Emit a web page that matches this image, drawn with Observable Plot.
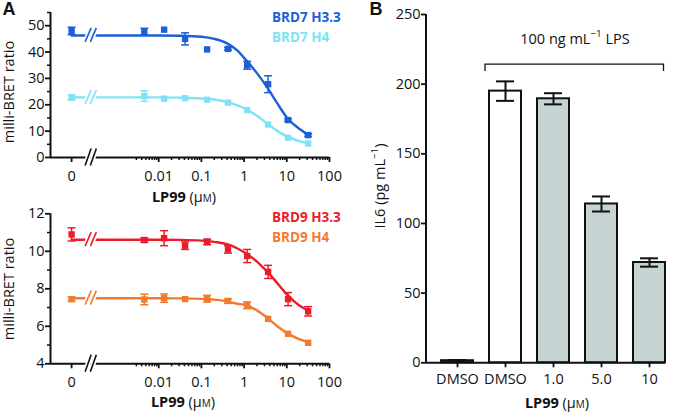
<!DOCTYPE html>
<html><head><meta charset="utf-8">
<script src="https://cdn.jsdelivr.net/npm/d3@7"></script>
<script src="https://cdn.jsdelivr.net/npm/@observablehq/plot@0.6"></script>
<style>
body{margin:0;background:#fff;}
#root{position:relative;width:675px;height:415px;overflow:hidden;font-family:"Open Sans",sans-serif;color:#111;}
.abs{position:absolute;white-space:nowrap;line-height:1;transform:translate(-50%,-50%);}
.rot{transform:translate(-50%,-50%) rotate(-90deg);}
.lft{transform:translate(0,-50%);}
.panel{position:absolute;display:block;}
.lbl{font-size:14.5px;}
.lbl b{font-weight:700;}
.leg{font-weight:700;font-size:13.5px;}
.letter{font-family:"Liberation Sans",Arial,sans-serif;font-weight:700;font-size:18px;}
sup{font-size:0.68em;line-height:0;position:relative;top:-0.1em;}
.sc{font-variant:small-caps;}
</style></head><body><div id="root"></div>
<script>
// ---------- Panel A data ----------
const conc = [0, 0.0046, 0.0134, 0.0415, 0.136, 0.42, 1.18, 3.65, 10.7, 31.6];
const brd7H33 = [48.0, 47.7, 48.5, 45.0, 41.0, 41.2, 35.0, 27.8, 14.2, 8.5];
const brd7H33Err = [1.4, 1.3, 0, 2.3, 0, 0.5, 1.5, 3.2, 0.5, 0.5];
const brd7H4 = [22.8, 23.3, 22.3, 22.5, 21.9, 20.8, 18.0, 12.5, 7.5, 5.3];
const brd7H4Err = [1.0, 2.0, 0, 0, 0, 0, 0, 0, 0, 0];
const brd9H33 = [10.9, 10.6, 10.7, 10.3, 10.5, 10.1, 9.75, 8.9, 7.45, 6.8];
const brd9H33Err = [0.35, 0.12, 0.4, 0.2, 0.15, 0.2, 0.35, 0.35, 0.35, 0.25];
const brd9H4 = [7.45, 7.43, 7.5, 7.45, 7.47, 7.35, 7.12, 6.4, 5.6, 5.12];
const brd9H4Err = [0.12, 0.28, 0.22, 0, 0.18, 0.12, 0.18, 0, 0, 0];

// fitted curves
const fitConc = [0, 0.002, 0.01, 0.03, 0.1, 0.2, 0.4, 0.7, 1, 2, 3.5, 6, 10, 20, 32];
const fitBrd7H33 = [46.3, 46.3, 46.3, 46.2, 45.8, 45.0, 43.3, 40.5, 37.8, 32.0, 26.5, 20.5, 15.2, 10.8, 8.6];
const fitBrd7H4 = [22.8, 22.8, 22.8, 22.7, 22.4, 22.0, 21.0, 19.8, 18.7, 15.8, 12.8, 10.1, 8.0, 6.2, 5.3];
const fitBrd9H33 = [10.62, 10.62, 10.62, 10.61, 10.57, 10.5, 10.38, 10.15, 9.95, 9.45, 8.9, 8.3, 7.7, 7.1, 6.85];
const fitBrd9H4 = [7.5, 7.5, 7.5, 7.49, 7.46, 7.42, 7.33, 7.2, 7.15, 6.85, 6.45, 6.0, 5.65, 5.3, 5.15];

const seriesTop = ["BRD7 H3.3", "BRD7 H4"];
const seriesBottom = ["BRD9 H3.3", "BRD9 H4"];
const colorsTop = ["#1c5fd6", "#80e3f3"];
const colorsBottom = ["#eb1c2a", "#f47a2e"];

const xTickValues = [0, 0.01, 0.1, 1, 10, 100];
const xTickLabels = ["0", "0.01", "0.1", "1", "10", "100"];
const yTicksTop = [0, 10, 20, 30, 40, 50];
const yTicksBottom = [4, 6, 8, 10, 12];

// ---------- Panel B data ----------
const barLabels = ["DMSO", "DMSO", "1.0", "5.0", "10"];
const barValues = [1.5, 195, 189.5, 114, 72];
const barErr = [0.5, 7, 4, 5.4, 3];
const barFill = ["#ffffff", "#ffffff", "#c5d3d2", "#c5d3d2", "#c5d3d2"];
const yTicksB = [0, 50, 100, 150, 200, 250];
const bracketY = 214, bracketTip = 209;

// ---------- broken log axis helpers (x in log10 units) ----------
const ZERO_L = -4.04;          // where "0" sits on the broken axis
const XMIN_L = -4.534, XMAX_L = 2;
const BREAK_L = -3.58;
const lx = c => c === 0 ? ZERO_L : Math.log10(c);

const minorX = [];
for (const dec of [0.001, 0.01, 0.1, 1, 10]) for (let k = 2; k <= 9; k++) { const v = k * dec; if (v >= 0.0029) minorX.push(Math.log10(v)); }

const FONT = {fontFamily: "Open Sans, sans-serif", fontSize: "14.5px", color: "#111", background: "transparent", overflow: "visible"};

const capSymbol = {draw(ctx, size) { const r = Math.sqrt(size / Math.PI); ctx.moveTo(-r, 0); ctx.lineTo(r, 0); }};

function breakMark(items) {
  return (index, scales) => {
    const g = d3.create("svg:g");
    const cx = scales.x(BREAK_L);
    for (const pass of ["bg", "fg"]) {
      for (const it of items) {
        const cy = scales.y(it.y);
        for (const off of [-2.6, 2.6]) {
          g.append("line")
            .attr("x1", cx + off - 3).attr("y1", cy + it.h / 2)
            .attr("x2", cx + off + 3).attr("y2", cy - it.h / 2)
            .attr("stroke", pass === "bg" ? "#fff" : it.color)
            .attr("stroke-width", pass === "bg" ? 5 : 1.6);
        }
      }
    }
    return g.node();
  };
}

function doseMarks(series, fits, errs, colors) {
  const marks = [];
  series.forEach((vals, s) => {
    const pts = conc.map((c, i) => ({x: lx(c), y: vals[i], e: errs[s][i]}));
    const fit = fitConc.map((c, i) => ({x: lx(c), y: fits[s][i]}));
    const eb = pts.filter(d => d.e > 0);
    marks.push(Plot.line(fit, {x: "x", y: "y", stroke: colors[s], strokeWidth: 2.4, curve: "monotone-x"}));
    marks.push(Plot.ruleX(eb, {x: "x", y1: d => d.y - d.e, y2: d => d.y + d.e, stroke: colors[s], strokeWidth: 1.5}));
    marks.push(Plot.dot(eb, {x: "x", y: d => d.y - d.e, symbol: capSymbol, r: 4, stroke: colors[s], strokeWidth: 1.5, fill: "none"}));
    marks.push(Plot.dot(eb, {x: "x", y: d => d.y + d.e, symbol: capSymbol, r: 4, stroke: colors[s], strokeWidth: 1.5, fill: "none"}));
    marks.push(Plot.dot(pts, {x: "x", y: "y", symbol: "square", r: 3.6, fill: colors[s], stroke: "none"}));
  });
  return marks;
}

function panelA(opts) {
  const {height, marginTop, marginBottom, yDomain, yTicks, yMinor, series, fits, errs, colors} = opts;
  const majors = xTickValues.map(lx);
  return Plot.plot({
    width: 345, height, marginLeft: 50, marginRight: 16, marginTop, marginBottom,
    x: {type: "linear", domain: [XMIN_L, XMAX_L]},
    y: {domain: yDomain},
    style: FONT,
    marks: [
      ...doseMarks(series, fits, errs, colors),
      Plot.ruleX([XMIN_L], {stroke: "#111", strokeWidth: 2}),
      Plot.ruleY([yDomain[0]], {stroke: "#111", strokeWidth: 2}),
      breakMark([{y: yDomain[0], color: "#111", h: 17},
                 ...series.map((v, s) => ({y: fits[s][0], color: colors[s], h: 14}))]),
      Plot.axisX({ticks: majors, tickFormat: d => xTickLabels[majors.indexOf(d)], tickSize: 5, tickPadding: 8, strokeWidth: 1.8, label: null}),
      Plot.axisX({ticks: minorX, tickFormat: () => "", tickSize: 3, strokeWidth: 1.5, label: null}),
      Plot.axisY({ticks: yTicks, tickFormat: d => String(d), tickSize: 5, tickPadding: 1, strokeWidth: 1.8, label: null}),
      Plot.axisY({ticks: yMinor, tickFormat: () => "", tickSize: 3, strokeWidth: 1.5, label: null})
    ]
  });
}

const root = document.getElementById("root");

const topA = panelA({height: 200, marginTop: 12, marginBottom: 43, yDomain: [0, 55], yTicks: yTicksTop,
  yMinor: [5, 15, 25, 35, 45, 55], series: [brd7H33, brd7H4], fits: [fitBrd7H33, fitBrd7H4],
  errs: [brd7H33Err, brd7H4Err], colors: colorsTop});
topA.classList.add("panel"); topA.style.left = "0px"; topA.style.top = "0px";
root.appendChild(topA);

const botA = panelA({height: 215, marginTop: 13.3, marginBottom: 51.7, yDomain: [4, 12], yTicks: yTicksBottom,
  yMinor: [5, 7, 9, 11], series: [brd9H33, brd9H4], fits: [fitBrd9H33, fitBrd9H4],
  errs: [brd9H33Err, brd9H4Err], colors: colorsBottom});
botA.classList.add("panel"); botA.style.left = "0px"; botA.style.top = "200px";
root.appendChild(botA);

// ---------- Panel B ----------
const bars = barValues.map((v, i) => ({i, v, lo: v - barErr[i], hi: v + barErr[i], fill: barFill[i]}));
const panB = Plot.plot({
  width: 335, height: 415, marginLeft: 86, marginRight: 10, marginTop: 14, marginBottom: 52.7,
  x: {type: "band", domain: d3.range(barLabels.length), paddingInner: 0.334, paddingOuter: 0.127, align: 1},
  y: {domain: [0, 250]},
  style: FONT,
  marks: [
    Plot.barY(bars, {x: "i", y: "v", fill: "fill", stroke: "#111", strokeWidth: 2}),
    Plot.ruleX(bars, {x: "i", y1: "lo", y2: "hi", stroke: "#111", strokeWidth: 2}),
    Plot.tickY(bars, {x: "i", y: "lo", insetLeft: 7, insetRight: 7, stroke: "#111", strokeWidth: 2}),
    Plot.tickY(bars, {x: "i", y: "hi", insetLeft: 7, insetRight: 7, stroke: "#111", strokeWidth: 2}),
    Plot.ruleY([0], {stroke: "#111", strokeWidth: 2}),
    (index, scales, values, dims) => {
      const g = d3.create("svg:g");
      g.append("line").attr("x1", dims.marginLeft).attr("x2", dims.marginLeft)
        .attr("y1", dims.marginTop).attr("y2", dims.height - dims.marginBottom)
        .attr("stroke", "#111").attr("stroke-width", 2);
      const x = scales.x, y = scales.y;
      const x0 = x(1) - 4, x1 = x(barLabels.length - 1) + x.bandwidth() - 1.5;
      g.append("path").attr("d", `M${x0},${y(bracketTip)}V${y(bracketY)}H${x1}V${y(bracketTip)}`)
        .attr("fill", "none").attr("stroke", "#111").attr("stroke-width", 1.3);
      return g.node();
    },
    Plot.axisX({tickFormat: i => barLabels[i], tickSize: 5, tickPadding: 6, strokeWidth: 1.8, label: null}),
    Plot.axisY({ticks: yTicksB, tickSize: 5, tickPadding: 1, strokeWidth: 1.8, label: null})
  ]
});
panB.classList.add("panel"); panB.style.left = "340px"; panB.style.top = "0px";
root.appendChild(panB);

// ---------- HTML text ----------
function addText(html, x, y, cls, color) {
  const d = document.createElement("div");
  d.className = "abs " + (cls || "");
  d.style.left = x + "px"; d.style.top = y + "px";
  if (color) d.style.color = color;
  d.innerHTML = html;
  root.appendChild(d);
}
const lp99 = '<b>LP99</b> (μ<span class="sc">m</span>)';
addText("A", 9, 9, "letter");
addText("B", 376, 9, "letter");
addText(seriesTop[0], 272, 18, "leg lft", colorsTop[0]);
addText(seriesTop[1], 272, 38, "leg lft", colorsTop[1]);
addText(seriesBottom[0], 272, 218, "leg lft", colorsBottom[0]);
addText(seriesBottom[1], 272, 238, "leg lft", colorsBottom[1]);
addText("milli-BRET ratio", 9, 92, "lbl rot");
addText("milli-BRET ratio", 9, 289, "lbl rot");
addText(lp99, 184, 197, "lbl");
addText(lp99, 183, 401.5, "lbl");
addText(lp99, 557, 403, "lbl");
addText("IL6 (pg mL<sup>−1</sup>)", 380, 186, "lbl rot");
addText("100 ng mL<sup>−1</sup> LPS", 575, 39, "lbl");
</script></body></html>
